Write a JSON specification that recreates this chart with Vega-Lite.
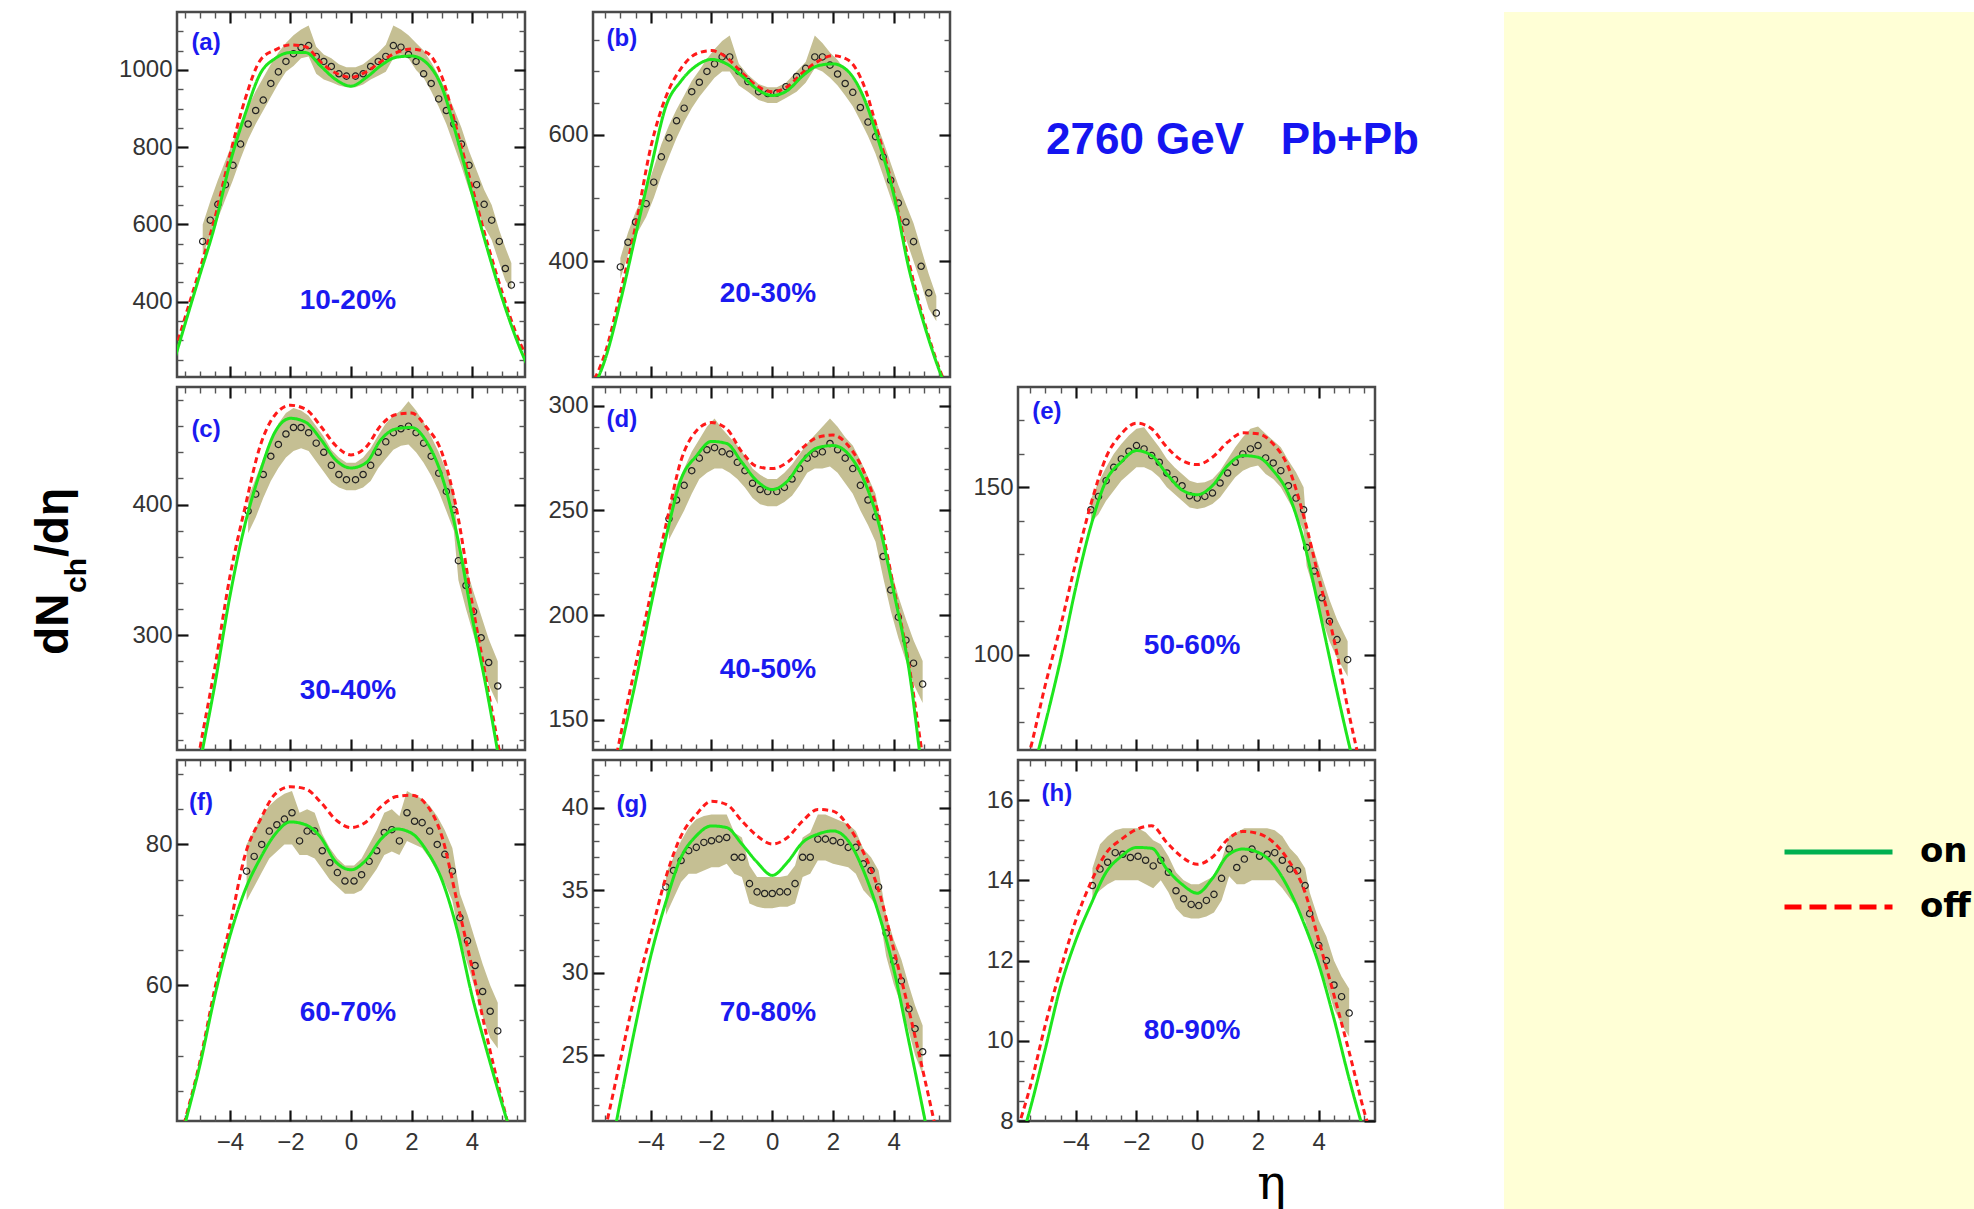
{
"$schema": "https://vega.github.io/schema/vega-lite/v6.json",
"background": "#ffffff",
"padding": {"left": 29, "top": 9, "right": 0, "bottom": 0},
"config": {
  "view": {"stroke": "#4a4a4a", "strokeWidth": 2.5},
  "axis": {"domain": false, "grid": false, "labelFont": "Liberation Sans", "labelFontSize": 24, "labelColor": "#333333", "labelOverlap": false, "labelFlush": false, "labelBound": false}
},
"resolve": {"scale": {"strokeDash": "independent", "color": "independent"}},
"datasets": {
"curves": [
{"p":"a","x":-6,"on":205,"off":225},{"p":"a","x":-5.5,"on":338,"off":355},{"p":"a","x":-5,"on":468,"off":483},{"p":"a","x":-4.5,"on":597,"off":616},{"p":"a","x":-4,"on":758,"off":780},{"p":"a","x":-3.5,"on":885,"off":924},{"p":"a","x":-3,"on":990,"off":1025},{"p":"a","x":-2.5,"on":1030,"off":1052},{"p":"a","x":-2,"on":1045,"off":1065},{"p":"a","x":-1.5,"on":1045,"off":1060},{"p":"a","x":-1,"on":1010,"off":1020},{"p":"a","x":-0.5,"on":975,"off":992},{"p":"a","x":0,"on":958,"off":981},{"p":"a","x":0.5,"on":980,"off":995},{"p":"a","x":1,"on":1012,"off":1022},{"p":"a","x":1.5,"on":1033,"off":1045},{"p":"a","x":2,"on":1036,"off":1054},{"p":"a","x":2.5,"on":1018,"off":1045},{"p":"a","x":3,"on":956,"off":983},{"p":"a","x":3.5,"on":826,"off":844},{"p":"a","x":4,"on":679,"off":697},{"p":"a","x":4.5,"on":538,"off":553},{"p":"a","x":5,"on":408,"off":423},{"p":"a","x":5.5,"on":296,"off":309},{"p":"a","x":6,"on":205,"off":230},
{"p":"b","x":-6,"on":190,"off":200},{"p":"b","x":-5.5,"on":245,"off":255},{"p":"b","x":-5,"on":336,"off":350},{"p":"b","x":-4.5,"on":441,"off":455},{"p":"b","x":-4,"on":546,"off":580},{"p":"b","x":-3.5,"on":645,"off":660},{"p":"b","x":-3,"on":685,"off":705},{"p":"b","x":-2.5,"on":709,"off":728},{"p":"b","x":-2,"on":719,"off":733},{"p":"b","x":-1.5,"on":712,"off":722},{"p":"b","x":-1,"on":693,"off":698},{"p":"b","x":-0.5,"on":672,"off":677},{"p":"b","x":0,"on":662,"off":668},{"p":"b","x":0.5,"on":670,"off":676},{"p":"b","x":1,"on":693,"off":698},{"p":"b","x":1.5,"on":709,"off":716},{"p":"b","x":2,"on":712,"off":725},{"p":"b","x":2.5,"on":700,"off":718},{"p":"b","x":3,"on":660,"off":680},{"p":"b","x":3.5,"on":590,"off":600},{"p":"b","x":4,"on":505,"off":510},{"p":"b","x":4.5,"on":388,"off":398},{"p":"b","x":5,"on":300,"off":305},{"p":"b","x":5.5,"on":227,"off":230},{"p":"b","x":6,"on":170,"off":175},
{"p":"c","x":-6,"on":60,"off":70},{"p":"c","x":-5.5,"on":130,"off":140},{"p":"c","x":-5,"on":200,"off":212},{"p":"c","x":-4.5,"on":262,"off":275},{"p":"c","x":-4,"on":330,"off":345},{"p":"c","x":-3.5,"on":385,"off":398},{"p":"c","x":-3,"on":425,"off":445},{"p":"c","x":-2.5,"on":456,"off":469},{"p":"c","x":-2,"on":466,"off":476},{"p":"c","x":-1.5,"on":463,"off":473},{"p":"c","x":-1,"on":450,"off":460},{"p":"c","x":-0.5,"on":434,"off":445},{"p":"c","x":0,"on":428,"off":438},{"p":"c","x":0.5,"on":432,"off":444},{"p":"c","x":1,"on":450,"off":461},{"p":"c","x":1.5,"on":458,"off":469},{"p":"c","x":2,"on":459,"off":470},{"p":"c","x":2.5,"on":448,"off":459},{"p":"c","x":3,"on":422,"off":440},{"p":"c","x":3.5,"on":377,"off":395},{"p":"c","x":4,"on":314,"off":325},{"p":"c","x":4.5,"on":256,"off":262},{"p":"c","x":5,"on":190,"off":198},{"p":"c","x":5.5,"on":120,"off":128},{"p":"c","x":6,"on":50,"off":60},
{"p":"d","x":-6,"on":60,"off":68},{"p":"d","x":-5.5,"on":100,"off":105},{"p":"d","x":-5,"on":135,"off":142},{"p":"d","x":-4.5,"on":168,"off":176},{"p":"d","x":-4,"on":204,"off":210},{"p":"d","x":-3.5,"on":237,"off":243},{"p":"d","x":-3,"on":265,"off":274},{"p":"d","x":-2.5,"on":276,"off":288},{"p":"d","x":-2,"on":283,"off":292},{"p":"d","x":-1.5,"on":282,"off":289},{"p":"d","x":-1,"on":273,"off":278},{"p":"d","x":-0.5,"on":264,"off":271},{"p":"d","x":0,"on":260,"off":270},{"p":"d","x":0.5,"on":264,"off":273},{"p":"d","x":1,"on":274,"off":280},{"p":"d","x":1.5,"on":280,"off":285},{"p":"d","x":2,"on":281,"off":286},{"p":"d","x":2.5,"on":277,"off":281},{"p":"d","x":3,"on":265,"off":269},{"p":"d","x":3.5,"on":244,"off":248},{"p":"d","x":4,"on":211,"off":213},{"p":"d","x":4.5,"on":174,"off":176},{"p":"d","x":5,"on":118,"off":128},{"p":"d","x":5.5,"on":75,"off":90},{"p":"d","x":6,"on":40,"off":55},
{"p":"e","x":-6,"on":45,"off":55},{"p":"e","x":-5.5,"on":62,"off":71.5},{"p":"e","x":-5,"on":79.5,"off":91},{"p":"e","x":-4.5,"on":98.5,"off":108.5},{"p":"e","x":-4,"on":120,"off":127.5},{"p":"e","x":-3.5,"on":138.5,"off":145},{"p":"e","x":-3,"on":152,"off":159},{"p":"e","x":-2.5,"on":157.6,"off":166},{"p":"e","x":-2,"on":161,"off":169.2},{"p":"e","x":-1.5,"on":159.5,"off":167.5},{"p":"e","x":-1,"on":154,"off":162},{"p":"e","x":-0.5,"on":149.2,"off":158},{"p":"e","x":0,"on":147.8,"off":156.8},{"p":"e","x":0.5,"on":150.5,"off":159},{"p":"e","x":1,"on":156.5,"off":163.5},{"p":"e","x":1.5,"on":159.5,"off":166.3},{"p":"e","x":2,"on":159,"off":166},{"p":"e","x":2.5,"on":155,"off":163},{"p":"e","x":3,"on":148,"off":156},{"p":"e","x":3.5,"on":134,"off":141.5},{"p":"e","x":4,"on":114,"off":123},{"p":"e","x":4.5,"on":93,"off":104.5},{"p":"e","x":5,"on":73,"off":82},{"p":"e","x":5.5,"on":55,"off":62},{"p":"e","x":6,"on":40,"off":45},
{"p":"f","x":-6,"on":31,"off":32},{"p":"f","x":-5.5,"on":40,"off":40.5},{"p":"f","x":-5,"on":48.5,"off":49},{"p":"f","x":-4.5,"on":58.5,"off":59.5},{"p":"f","x":-4,"on":67,"off":68.5},{"p":"f","x":-3.5,"on":73.5,"off":78.5},{"p":"f","x":-3,"on":78,"off":83.5},{"p":"f","x":-2.5,"on":81.5,"off":87.2},{"p":"f","x":-2,"on":83.2,"off":88.2},{"p":"f","x":-1.5,"on":82.8,"off":87.9},{"p":"f","x":-1,"on":81,"off":86},{"p":"f","x":-0.5,"on":77.5,"off":83.5},{"p":"f","x":0,"on":76.4,"off":82.4},{"p":"f","x":0.5,"on":77.8,"off":83.2},{"p":"f","x":1,"on":80.8,"off":85.4},{"p":"f","x":1.5,"on":82.2,"off":86.8},{"p":"f","x":2,"on":81.6,"off":87},{"p":"f","x":2.5,"on":79.1,"off":85.6},{"p":"f","x":3,"on":75,"off":81.2},{"p":"f","x":3.5,"on":68,"off":72},{"p":"f","x":4,"on":58.5,"off":62.5},{"p":"f","x":4.5,"on":50.5,"off":52.5},{"p":"f","x":5,"on":43,"off":43.5},{"p":"f","x":5.5,"on":36,"off":35},{"p":"f","x":6,"on":29,"off":27},
{"p":"g","x":-6,"on":14,"off":17},{"p":"g","x":-5.5,"on":17.5,"off":20.5},{"p":"g","x":-5,"on":22.2,"off":24.7},{"p":"g","x":-4.5,"on":26.8,"off":28.8},{"p":"g","x":-4,"on":31,"off":32.3},{"p":"g","x":-3.5,"on":34.3,"off":35.8},{"p":"g","x":-3,"on":37,"off":38.3},{"p":"g","x":-2.5,"on":38.3,"off":39.6},{"p":"g","x":-2,"on":38.9,"off":40.4},{"p":"g","x":-1.5,"on":38.8,"off":40.2},{"p":"g","x":-1,"on":37.8,"off":39.2},{"p":"g","x":-0.5,"on":36.7,"off":38.3},{"p":"g","x":0,"on":35.9,"off":37.8},{"p":"g","x":0.5,"on":36.7,"off":38.2},{"p":"g","x":1,"on":37.9,"off":39.2},{"p":"g","x":1.5,"on":38.4,"off":39.9},{"p":"g","x":2,"on":38.6,"off":39.8},{"p":"g","x":2.5,"on":38,"off":38.9},{"p":"g","x":3,"on":36.2,"off":37.3},{"p":"g","x":3.5,"on":33.6,"off":35},{"p":"g","x":4,"on":30.2,"off":31.4},{"p":"g","x":4.5,"on":25.8,"off":27.7},{"p":"g","x":5,"on":21.3,"off":23.7},{"p":"g","x":5.5,"on":16.5,"off":19.5},{"p":"g","x":6,"on":12,"off":15},
{"p":"h","x":-6,"on":7,"off":7.6},{"p":"h","x":-5.5,"on":8.3,"off":8.85},{"p":"h","x":-5,"on":9.8,"off":10.4},{"p":"h","x":-4.5,"on":11.35,"off":11.78},{"p":"h","x":-4,"on":12.5,"off":13},{"p":"h","x":-3.5,"on":13.4,"off":13.95},{"p":"h","x":-3,"on":14.2,"off":14.68},{"p":"h","x":-2.5,"on":14.6,"off":15.02},{"p":"h","x":-2,"on":14.82,"off":15.27},{"p":"h","x":-1.5,"on":14.8,"off":15.36},{"p":"h","x":-1,"on":14.28,"off":14.94},{"p":"h","x":-0.5,"on":13.9,"off":14.58},{"p":"h","x":0,"on":13.68,"off":14.4},{"p":"h","x":0.5,"on":14.05,"off":14.58},{"p":"h","x":1,"on":14.62,"off":15.02},{"p":"h","x":1.5,"on":14.78,"off":15.22},{"p":"h","x":2,"on":14.7,"off":15.17},{"p":"h","x":2.5,"on":14.4,"off":14.95},{"p":"h","x":3,"on":13.8,"off":14.5},{"p":"h","x":3.5,"on":12.95,"off":13.8},{"p":"h","x":4,"on":11.9,"off":12.5},{"p":"h","x":4.5,"on":10.55,"off":11.14},{"p":"h","x":5,"on":9.05,"off":9.72},{"p":"h","x":5.5,"on":7.7,"off":8.22},{"p":"h","x":6,"on":6.5,"off":7}
],
"meas": [
{"p":"a","x":-4.9,"y":556,"lo":520,"hi":600},{"p":"a","x":-4.65,"y":611,"lo":572,"hi":660},{"p":"a","x":-4.4,"y":652,"lo":615,"hi":715},{"p":"a","x":-4.15,"y":703,"lo":665,"hi":765},{"p":"a","x":-3.9,"y":753,"lo":715,"hi":815},{"p":"a","x":-3.65,"y":808,"lo":770,"hi":865},{"p":"a","x":-3.4,"y":860,"lo":820,"hi":905},{"p":"a","x":-3.15,"y":895,"lo":860,"hi":945},{"p":"a","x":-2.9,"y":922,"lo":895,"hi":980},{"p":"a","x":-2.65,"y":965,"lo":930,"hi":1015},{"p":"a","x":-2.4,"y":995,"lo":965,"hi":1045},{"p":"a","x":-2.15,"y":1022,"lo":995,"hi":1070},{"p":"a","x":-1.9,"y":1042,"lo":1010,"hi":1090},{"p":"a","x":-1.65,"y":1058,"lo":1030,"hi":1105},{"p":"a","x":-1.4,"y":1063,"lo":1035,"hi":1115},{"p":"a","x":-1.15,"y":1035,"lo":990,"hi":1060},{"p":"a","x":-0.9,"y":1022,"lo":975,"hi":1040},{"p":"a","x":-0.65,"y":1009,"lo":968,"hi":1030},{"p":"a","x":-0.4,"y":990,"lo":960,"hi":1015},{"p":"a","x":-0.15,"y":984,"lo":955,"hi":1007},{"p":"a","x":0.15,"y":984,"lo":955,"hi":1007},{"p":"a","x":0.4,"y":990,"lo":962,"hi":1015},{"p":"a","x":0.65,"y":1009,"lo":975,"hi":1030},{"p":"a","x":0.9,"y":1022,"lo":985,"hi":1045},{"p":"a","x":1.15,"y":1035,"lo":995,"hi":1065},{"p":"a","x":1.4,"y":1063,"lo":1030,"hi":1115},{"p":"a","x":1.65,"y":1059,"lo":1040,"hi":1105},{"p":"a","x":1.9,"y":1040,"lo":1030,"hi":1090},{"p":"a","x":2.15,"y":1022,"lo":1000,"hi":1070},{"p":"a","x":2.4,"y":990,"lo":980,"hi":1050},{"p":"a","x":2.65,"y":965,"lo":945,"hi":1020},{"p":"a","x":2.9,"y":925,"lo":905,"hi":985},{"p":"a","x":3.15,"y":895,"lo":860,"hi":945},{"p":"a","x":3.4,"y":860,"lo":805,"hi":900},{"p":"a","x":3.65,"y":808,"lo":750,"hi":850},{"p":"a","x":3.9,"y":753,"lo":690,"hi":790},{"p":"a","x":4.15,"y":703,"lo":640,"hi":740},{"p":"a","x":4.4,"y":652,"lo":595,"hi":690},{"p":"a","x":4.65,"y":611,"lo":560,"hi":650},{"p":"a","x":4.9,"y":556,"lo":500,"hi":585},{"p":"a","x":5.1,"y":486,"lo":455,"hi":540},{"p":"a","x":5.3,"y":443,"lo":430,"hi":500},
{"p":"b","x":-5,"y":391,"lo":372,"hi":405},{"p":"b","x":-4.75,"y":430,"lo":410,"hi":445},{"p":"b","x":-4.5,"y":462,"lo":440,"hi":478},{"p":"b","x":-4.15,"y":491,"lo":470,"hi":512},{"p":"b","x":-3.9,"y":525,"lo":500,"hi":548},{"p":"b","x":-3.65,"y":565,"lo":535,"hi":585},{"p":"b","x":-3.4,"y":595,"lo":565,"hi":615},{"p":"b","x":-3.15,"y":622,"lo":595,"hi":640},{"p":"b","x":-2.9,"y":642,"lo":620,"hi":662},{"p":"b","x":-2.65,"y":668,"lo":642,"hi":685},{"p":"b","x":-2.4,"y":683,"lo":660,"hi":702},{"p":"b","x":-2.15,"y":700,"lo":675,"hi":720},{"p":"b","x":-1.9,"y":712,"lo":690,"hi":735},{"p":"b","x":-1.65,"y":723,"lo":700,"hi":748},{"p":"b","x":-1.4,"y":723,"lo":700,"hi":757},{"p":"b","x":-1.1,"y":700,"lo":678,"hi":712},{"p":"b","x":-0.8,"y":684,"lo":668,"hi":695},{"p":"b","x":-0.45,"y":668,"lo":655,"hi":680},{"p":"b","x":-0.15,"y":665,"lo":650,"hi":675},{"p":"b","x":0.15,"y":666,"lo":650,"hi":675},{"p":"b","x":0.45,"y":676,"lo":658,"hi":682},{"p":"b","x":0.8,"y":692,"lo":668,"hi":700},{"p":"b","x":1.1,"y":705,"lo":682,"hi":715},{"p":"b","x":1.4,"y":723,"lo":705,"hi":757},{"p":"b","x":1.65,"y":723,"lo":700,"hi":745},{"p":"b","x":1.9,"y":710,"lo":690,"hi":730},{"p":"b","x":2.15,"y":696,"lo":678,"hi":718},{"p":"b","x":2.4,"y":681,"lo":662,"hi":702},{"p":"b","x":2.65,"y":667,"lo":645,"hi":688},{"p":"b","x":2.9,"y":643,"lo":622,"hi":668},{"p":"b","x":3.15,"y":620,"lo":598,"hi":648},{"p":"b","x":3.4,"y":597,"lo":570,"hi":622},{"p":"b","x":3.65,"y":565,"lo":535,"hi":590},{"p":"b","x":3.9,"y":528,"lo":500,"hi":555},{"p":"b","x":4.15,"y":492,"lo":465,"hi":520},{"p":"b","x":4.4,"y":462,"lo":435,"hi":490},{"p":"b","x":4.65,"y":431,"lo":400,"hi":460},{"p":"b","x":4.9,"y":392,"lo":365,"hi":420},{"p":"b","x":5.15,"y":350,"lo":325,"hi":380},{"p":"b","x":5.4,"y":318,"lo":305,"hi":345},
{"p":"c","x":-3.4,"y":395,"lo":378,"hi":405},{"p":"c","x":-3.15,"y":408,"lo":390,"hi":420},{"p":"c","x":-2.9,"y":423,"lo":405,"hi":435},{"p":"c","x":-2.65,"y":437,"lo":418,"hi":450},{"p":"c","x":-2.4,"y":446,"lo":428,"hi":462},{"p":"c","x":-2.15,"y":454,"lo":436,"hi":470},{"p":"c","x":-1.9,"y":459,"lo":441,"hi":474},{"p":"c","x":-1.65,"y":459,"lo":443,"hi":472},{"p":"c","x":-1.4,"y":455,"lo":441,"hi":468},{"p":"c","x":-1.15,"y":447,"lo":433,"hi":460},{"p":"c","x":-0.9,"y":440,"lo":425,"hi":452},{"p":"c","x":-0.65,"y":430,"lo":417,"hi":442},{"p":"c","x":-0.4,"y":423,"lo":413,"hi":436},{"p":"c","x":-0.15,"y":419,"lo":411,"hi":432},{"p":"c","x":0.15,"y":419,"lo":411,"hi":432},{"p":"c","x":0.4,"y":423,"lo":413,"hi":436},{"p":"c","x":0.65,"y":430,"lo":418,"hi":443},{"p":"c","x":0.9,"y":440,"lo":428,"hi":453},{"p":"c","x":1.15,"y":448,"lo":435,"hi":462},{"p":"c","x":1.4,"y":455,"lo":442,"hi":468},{"p":"c","x":1.65,"y":458,"lo":445,"hi":472},{"p":"c","x":1.9,"y":460,"lo":446,"hi":479},{"p":"c","x":2.15,"y":455,"lo":440,"hi":472},{"p":"c","x":2.4,"y":447,"lo":432,"hi":463},{"p":"c","x":2.65,"y":437,"lo":422,"hi":452},{"p":"c","x":2.9,"y":424,"lo":410,"hi":440},{"p":"c","x":3.15,"y":410,"lo":395,"hi":426},{"p":"c","x":3.4,"y":396,"lo":380,"hi":410},{"p":"c","x":3.55,"y":357,"lo":342,"hi":370},{"p":"c","x":3.8,"y":338,"lo":320,"hi":352},{"p":"c","x":4.05,"y":318,"lo":300,"hi":333},{"p":"c","x":4.3,"y":298,"lo":280,"hi":315},{"p":"c","x":4.55,"y":279,"lo":262,"hi":297},{"p":"c","x":4.85,"y":261,"lo":247,"hi":280},
{"p":"d","x":-3.4,"y":246,"lo":236,"hi":252},{"p":"d","x":-3.15,"y":255,"lo":243,"hi":262},{"p":"d","x":-2.9,"y":262,"lo":250,"hi":270},{"p":"d","x":-2.65,"y":269,"lo":258,"hi":278},{"p":"d","x":-2.4,"y":275,"lo":265,"hi":284},{"p":"d","x":-2.15,"y":279,"lo":268,"hi":290},{"p":"d","x":-1.9,"y":280,"lo":270,"hi":294},{"p":"d","x":-1.65,"y":278,"lo":270,"hi":289},{"p":"d","x":-1.4,"y":277,"lo":268,"hi":285},{"p":"d","x":-1.15,"y":273,"lo":265,"hi":281},{"p":"d","x":-0.9,"y":269,"lo":261,"hi":276},{"p":"d","x":-0.65,"y":263,"lo":256,"hi":270},{"p":"d","x":-0.4,"y":260,"lo":253,"hi":267},{"p":"d","x":-0.15,"y":259,"lo":252,"hi":265},{"p":"d","x":0.15,"y":259,"lo":252,"hi":265},{"p":"d","x":0.4,"y":261,"lo":254,"hi":268},{"p":"d","x":0.65,"y":265,"lo":257,"hi":272},{"p":"d","x":0.9,"y":270,"lo":262,"hi":277},{"p":"d","x":1.15,"y":275,"lo":268,"hi":282},{"p":"d","x":1.4,"y":277,"lo":270,"hi":286},{"p":"d","x":1.65,"y":278,"lo":270,"hi":290},{"p":"d","x":1.9,"y":282,"lo":271,"hi":294},{"p":"d","x":2.15,"y":279,"lo":268,"hi":290},{"p":"d","x":2.4,"y":275,"lo":263,"hi":285},{"p":"d","x":2.65,"y":270,"lo":258,"hi":281},{"p":"d","x":2.9,"y":262,"lo":250,"hi":274},{"p":"d","x":3.15,"y":255,"lo":243,"hi":266},{"p":"d","x":3.4,"y":247,"lo":235,"hi":258},{"p":"d","x":3.65,"y":228,"lo":218,"hi":238},{"p":"d","x":3.9,"y":212,"lo":202,"hi":222},{"p":"d","x":4.15,"y":199,"lo":189,"hi":209},{"p":"d","x":4.4,"y":188,"lo":178,"hi":198},{"p":"d","x":4.65,"y":177,"lo":167,"hi":188},{"p":"d","x":4.95,"y":167,"lo":158,"hi":178},
{"p":"e","x":-3.5,"y":143.3,"lo":139.5,"hi":146.5},{"p":"e","x":-3.25,"y":147.3,"lo":142,"hi":151.5},{"p":"e","x":-3,"y":152,"lo":146,"hi":156},{"p":"e","x":-2.75,"y":156,"lo":149,"hi":160},{"p":"e","x":-2.5,"y":158.5,"lo":152,"hi":163},{"p":"e","x":-2.25,"y":160.8,"lo":154,"hi":165.5},{"p":"e","x":-2,"y":162.5,"lo":156,"hi":167.5},{"p":"e","x":-1.75,"y":161.5,"lo":156,"hi":168},{"p":"e","x":-1.5,"y":159.5,"lo":155,"hi":165},{"p":"e","x":-1.25,"y":157.5,"lo":153,"hi":162},{"p":"e","x":-1,"y":154.3,"lo":150,"hi":158.5},{"p":"e","x":-0.75,"y":152.3,"lo":148,"hi":156},{"p":"e","x":-0.5,"y":150.5,"lo":146,"hi":154},{"p":"e","x":-0.25,"y":147.5,"lo":144,"hi":152},{"p":"e","x":0,"y":146.8,"lo":143.5,"hi":151.3},{"p":"e","x":0.25,"y":147.3,"lo":144,"hi":151.5},{"p":"e","x":0.5,"y":148.3,"lo":145,"hi":152.5},{"p":"e","x":0.75,"y":151.3,"lo":147,"hi":155},{"p":"e","x":1,"y":154.3,"lo":150,"hi":158.5},{"p":"e","x":1.25,"y":157.5,"lo":153,"hi":162},{"p":"e","x":1.5,"y":160,"lo":155,"hi":165},{"p":"e","x":1.75,"y":161.5,"lo":156,"hi":167.5},{"p":"e","x":2,"y":162.5,"lo":156.5,"hi":168.2},{"p":"e","x":2.25,"y":158.8,"lo":154,"hi":166},{"p":"e","x":2.5,"y":157.3,"lo":152.5,"hi":164},{"p":"e","x":2.75,"y":155,"lo":150,"hi":162},{"p":"e","x":3,"y":150.5,"lo":146,"hi":158},{"p":"e","x":3.25,"y":146.8,"lo":142,"hi":154.5},{"p":"e","x":3.5,"y":143.3,"lo":137,"hi":150},{"p":"e","x":3.6,"y":132,"lo":126.5,"hi":138},{"p":"e","x":3.85,"y":125,"lo":119,"hi":131},{"p":"e","x":4.1,"y":117,"lo":111,"hi":123.5},{"p":"e","x":4.35,"y":110,"lo":104,"hi":116.5},{"p":"e","x":4.6,"y":104.5,"lo":99,"hi":110.5},{"p":"e","x":4.95,"y":98.5,"lo":93.5,"hi":104},
{"p":"f","x":-3.45,"y":76.2,"lo":72,"hi":80},{"p":"f","x":-3.2,"y":78.3,"lo":74,"hi":82},{"p":"f","x":-2.95,"y":80,"lo":76,"hi":84},{"p":"f","x":-2.7,"y":81.9,"lo":78,"hi":85.5},{"p":"f","x":-2.45,"y":82.8,"lo":79,"hi":86.5},{"p":"f","x":-2.2,"y":83.6,"lo":80,"hi":87.2},{"p":"f","x":-1.95,"y":84.5,"lo":80,"hi":87.6},{"p":"f","x":-1.7,"y":80.5,"lo":78.5,"hi":84.5},{"p":"f","x":-1.45,"y":81.9,"lo":78.5,"hi":85},{"p":"f","x":-1.2,"y":81.9,"lo":78,"hi":84.5},{"p":"f","x":-0.95,"y":79.1,"lo":76.5,"hi":81.5},{"p":"f","x":-0.7,"y":77.4,"lo":75,"hi":79.5},{"p":"f","x":-0.45,"y":76,"lo":74,"hi":78},{"p":"f","x":-0.2,"y":74.8,"lo":73,"hi":77},{"p":"f","x":0.1,"y":74.8,"lo":73,"hi":77},{"p":"f","x":0.35,"y":75.7,"lo":73.5,"hi":78},{"p":"f","x":0.6,"y":77.6,"lo":75,"hi":80},{"p":"f","x":0.85,"y":79.1,"lo":76.5,"hi":82},{"p":"f","x":1.1,"y":81.7,"lo":78.5,"hi":84.5},{"p":"f","x":1.35,"y":82.1,"lo":79,"hi":85},{"p":"f","x":1.6,"y":80.5,"lo":78.5,"hi":84},{"p":"f","x":1.85,"y":84.5,"lo":80.5,"hi":87.6},{"p":"f","x":2.1,"y":83.3,"lo":80,"hi":87},{"p":"f","x":2.35,"y":83.1,"lo":79.5,"hi":86.5},{"p":"f","x":2.6,"y":81.9,"lo":78,"hi":85.5},{"p":"f","x":2.85,"y":80,"lo":76,"hi":84},{"p":"f","x":3.1,"y":78.6,"lo":74.5,"hi":82},{"p":"f","x":3.35,"y":76.2,"lo":72,"hi":79.5},{"p":"f","x":3.6,"y":69.6,"lo":66.5,"hi":73},{"p":"f","x":3.85,"y":66.3,"lo":63,"hi":70},{"p":"f","x":4.1,"y":62.8,"lo":59.5,"hi":66.5},{"p":"f","x":4.35,"y":59.1,"lo":55.5,"hi":63},{"p":"f","x":4.6,"y":56.3,"lo":52.5,"hi":60},{"p":"f","x":4.85,"y":53.5,"lo":51,"hi":57.5},
{"p":"g","x":-3.5,"y":35.2,"lo":33.5,"hi":36},{"p":"g","x":-3.25,"y":36.2,"lo":34.5,"hi":37},{"p":"g","x":-3,"y":36.8,"lo":35.5,"hi":38},{"p":"g","x":-2.75,"y":37.4,"lo":36,"hi":38.8},{"p":"g","x":-2.5,"y":37.6,"lo":36,"hi":39.3},{"p":"g","x":-2.25,"y":37.9,"lo":36.2,"hi":39.5},{"p":"g","x":-2,"y":38,"lo":36.4,"hi":39.6},{"p":"g","x":-1.75,"y":38.1,"lo":36.4,"hi":39.6},{"p":"g","x":-1.5,"y":38.2,"lo":36.6,"hi":39.6},{"p":"g","x":-1.25,"y":37,"lo":36,"hi":38.5},{"p":"g","x":-1,"y":37,"lo":35.8,"hi":38.2},{"p":"g","x":-0.75,"y":35.4,"lo":34.2,"hi":36.5},{"p":"g","x":-0.5,"y":34.9,"lo":34,"hi":35.8},{"p":"g","x":-0.25,"y":34.8,"lo":33.9,"hi":35.8},{"p":"g","x":0,"y":34.8,"lo":33.9,"hi":35.8},{"p":"g","x":0.25,"y":34.9,"lo":34,"hi":35.8},{"p":"g","x":0.5,"y":34.9,"lo":34,"hi":35.9},{"p":"g","x":0.75,"y":35.4,"lo":34.2,"hi":36.5},{"p":"g","x":1,"y":37,"lo":35.8,"hi":38.2},{"p":"g","x":1.25,"y":37,"lo":36,"hi":38.5},{"p":"g","x":1.5,"y":38.1,"lo":36.8,"hi":39.6},{"p":"g","x":1.75,"y":38.1,"lo":36.8,"hi":39.6},{"p":"g","x":2,"y":38,"lo":36.6,"hi":39.4},{"p":"g","x":2.25,"y":37.9,"lo":36.5,"hi":39.2},{"p":"g","x":2.5,"y":37.6,"lo":36.4,"hi":39},{"p":"g","x":2.75,"y":37.6,"lo":36,"hi":38.6},{"p":"g","x":3,"y":36.6,"lo":35,"hi":37.5},{"p":"g","x":3.25,"y":36.2,"lo":34.5,"hi":37},{"p":"g","x":3.5,"y":35.2,"lo":33.8,"hi":36.2},{"p":"g","x":3.75,"y":32.4,"lo":31,"hi":33.5},{"p":"g","x":4,"y":30.7,"lo":29.3,"hi":32},{"p":"g","x":4.25,"y":29.5,"lo":28,"hi":30.8},{"p":"g","x":4.5,"y":27.8,"lo":26.4,"hi":29.2},{"p":"g","x":4.7,"y":26.6,"lo":25,"hi":28},{"p":"g","x":4.95,"y":25.2,"lo":23.8,"hi":26.8},
{"p":"h","x":-3.45,"y":13.87,"lo":13.55,"hi":14.3},{"p":"h","x":-3.2,"y":14.28,"lo":13.75,"hi":14.9},{"p":"h","x":-2.95,"y":14.45,"lo":13.9,"hi":15.1},{"p":"h","x":-2.7,"y":14.69,"lo":14,"hi":15.25},{"p":"h","x":-2.45,"y":14.65,"lo":14,"hi":15.3},{"p":"h","x":-2.2,"y":14.57,"lo":14,"hi":15.3},{"p":"h","x":-1.95,"y":14.6,"lo":14,"hi":15.3},{"p":"h","x":-1.7,"y":14.5,"lo":13.9,"hi":15.2},{"p":"h","x":-1.45,"y":14.36,"lo":13.8,"hi":15},{"p":"h","x":-1.2,"y":14.5,"lo":14,"hi":14.9},{"p":"h","x":-0.95,"y":14.2,"lo":13.7,"hi":14.6},{"p":"h","x":-0.7,"y":13.74,"lo":13.3,"hi":14.2},{"p":"h","x":-0.45,"y":13.54,"lo":13.1,"hi":14},{"p":"h","x":-0.2,"y":13.4,"lo":13.05,"hi":13.9},{"p":"h","x":0.05,"y":13.37,"lo":13.05,"hi":13.9},{"p":"h","x":0.3,"y":13.5,"lo":13.1,"hi":14},{"p":"h","x":0.55,"y":13.65,"lo":13.2,"hi":14.1},{"p":"h","x":0.8,"y":14.05,"lo":13.5,"hi":14.5},{"p":"h","x":1.05,"y":14.78,"lo":14.1,"hi":15.1},{"p":"h","x":1.3,"y":14.32,"lo":13.9,"hi":15.2},{"p":"h","x":1.55,"y":14.53,"lo":13.9,"hi":15.3},{"p":"h","x":1.8,"y":14.78,"lo":14,"hi":15.3},{"p":"h","x":2.05,"y":14.6,"lo":14,"hi":15.3},{"p":"h","x":2.3,"y":14.65,"lo":14,"hi":15.3},{"p":"h","x":2.55,"y":14.69,"lo":14,"hi":15.25},{"p":"h","x":2.8,"y":14.5,"lo":13.8,"hi":15.1},{"p":"h","x":3.05,"y":14.28,"lo":13.55,"hi":14.8},{"p":"h","x":3.3,"y":14.24,"lo":13.3,"hi":14.6},{"p":"h","x":3.55,"y":13.87,"lo":13,"hi":14.3},{"p":"h","x":3.7,"y":13.17,"lo":12.6,"hi":13.7},{"p":"h","x":4,"y":12.38,"lo":11.9,"hi":13},{"p":"h","x":4.25,"y":12,"lo":11.4,"hi":12.6},{"p":"h","x":4.5,"y":11.39,"lo":10.8,"hi":12},{"p":"h","x":4.75,"y":11.1,"lo":10.4,"hi":11.6},{"p":"h","x":5,"y":10.69,"lo":10.1,"hi":11.3}
]
},
"hconcat": [
{
"columns": 3, "align": "each", "bounds": "flush", "spacing": {"row": 10, "column": 68},
"concat": [
{
 "width": 348, "height": 365,
 "resolve": {"axis": {"x": "independent", "y": "independent"}},
 "layer": [
  {"data": {"name": "meas"}, "transform": [{"filter": "datum.p === 'a'"}],
   "mark": {"type": "area", "color": "#c5bf93"},
   "encoding": {
    "x": {"field": "x", "type": "quantitative", "scale": {"domain": [-5.75, 5.75], "nice": false}, "axis": {"orient": "bottom", "title": null, "labels": false, "values": [-5.5,-5,-4.5,-4,-3.5,-3,-2.5,-2,-1.5,-1,-0.5,0,0.5,1,1.5,2,2.5,3,3.5,4,4.5,5,5.5], "tickSize": {"condition": {"test": "datum.value % 2 === 0", "value": -11}, "value": -6}, "tickWidth": {"condition": {"test": "datum.value % 2 === 0", "value": 2.2}, "value": 1.4}, "tickColor": {"condition": {"test": "datum.value % 2 === 0", "value": "#111111"}, "value": "#555555"}}},
    "y": {"field": "lo", "type": "quantitative", "scale": {"domain": [205, 1150], "nice": false, "zero": false}, "axis": {"orient": "left", "title": null, "values": [250,300,350,400,450,500,550,600,650,700,750,800,850,900,950,1000,1050,1100], "labelExpr": "datum.value % 200 === 0 ? format(datum.value, 'd') : ''", "labelPadding": 16, "tickSize": {"condition": {"test": "datum.value % 200 === 0", "value": -11}, "value": -6}, "tickWidth": {"condition": {"test": "datum.value % 200 === 0", "value": 2.2}, "value": 1.4}, "tickColor": {"condition": {"test": "datum.value % 200 === 0", "value": "#111111"}, "value": "#555555"}}},
    "y2": {"field": "hi"}
   }},
  {"data": {"name": "meas"}, "transform": [{"filter": "datum.p === 'a'"}],
   "mark": {"type": "point", "shape": "circle", "filled": false, "stroke": "#222222", "strokeWidth": 1.2, "size": 40, "opacity": 1},
   "encoding": {
    "x": {"field": "x", "type": "quantitative", "axis": {"orient": "top", "title": null, "labels": false, "values": [-5.5,-5,-4.5,-4,-3.5,-3,-2.5,-2,-1.5,-1,-0.5,0,0.5,1,1.5,2,2.5,3,3.5,4,4.5,5,5.5], "tickSize": {"condition": {"test": "datum.value % 2 === 0", "value": -11}, "value": -6}, "tickWidth": {"condition": {"test": "datum.value % 2 === 0", "value": 2.2}, "value": 1.4}, "tickColor": {"condition": {"test": "datum.value % 2 === 0", "value": "#111111"}, "value": "#555555"}}},
    "y": {"field": "y", "type": "quantitative", "axis": {"orient": "right", "title": null, "labels": false, "values": [250,300,350,400,450,500,550,600,650,700,750,800,850,900,950,1000,1050,1100], "tickSize": {"condition": {"test": "datum.value % 200 === 0", "value": -11}, "value": -6}, "tickWidth": {"condition": {"test": "datum.value % 200 === 0", "value": 2.2}, "value": 1.4}, "tickColor": {"condition": {"test": "datum.value % 200 === 0", "value": "#111111"}, "value": "#555555"}}}
   }},
  {"data": {"name": "curves"}, "transform": [{"filter": "datum.p === 'a'"}, {"fold": ["off", "on"], "as": ["s", "v"]}],
   "mark": {"type": "line", "clip": true, "interpolate": "monotone", "strokeWidth": 3},
   "encoding": {
    "x": {"field": "x", "type": "quantitative", "axis": null},
    "y": {"field": "v", "type": "quantitative", "axis": null},
    "color": {"field": "s", "type": "nominal", "scale": {"domain": ["on", "off"], "range": ["#1ee61e", "#ff1a1a"]}, "legend": null},
    "strokeDash": {"field": "s", "type": "nominal", "scale": {"domain": ["on", "off"], "range": [[1, 0], [6, 4]]}, "legend": null}
   }},
  {"data": {"values": [{}]}, "mark": {"type": "text", "text": "(a)", "font": "Liberation Sans", "fontSize": 24, "fontWeight": "bold", "color": "#1a1af0", "align": "center", "baseline": "middle"},
   "encoding": {"x": {"datum": -4.79, "type": "quantitative", "axis": null}, "y": {"datum": 1070, "type": "quantitative", "axis": null}}},
  {"data": {"values": [{}]}, "mark": {"type": "text", "text": "10-20%", "font": "Liberation Sans", "fontSize": 28, "fontWeight": "bold", "color": "#1a1af0", "align": "center", "baseline": "middle"},
   "encoding": {"x": {"datum": -0.1, "type": "quantitative", "axis": null}, "y": {"datum": 402, "type": "quantitative", "axis": null}}}
 ]
},
{
 "width": 357, "height": 365,
 "resolve": {"axis": {"x": "independent", "y": "independent"}},
 "layer": [
  {"data": {"name": "meas"}, "transform": [{"filter": "datum.p === 'b'"}],
   "mark": {"type": "area", "color": "#c5bf93"},
   "encoding": {
    "x": {"field": "x", "type": "quantitative", "scale": {"domain": [-5.9, 5.85], "nice": false}, "axis": {"orient": "bottom", "title": null, "labels": false, "values": [-5.5,-5,-4.5,-4,-3.5,-3,-2.5,-2,-1.5,-1,-0.5,0,0.5,1,1.5,2,2.5,3,3.5,4,4.5,5,5.5], "tickSize": {"condition": {"test": "datum.value % 2 === 0", "value": -11}, "value": -6}, "tickWidth": {"condition": {"test": "datum.value % 2 === 0", "value": 2.2}, "value": 1.4}, "tickColor": {"condition": {"test": "datum.value % 2 === 0", "value": "#111111"}, "value": "#555555"}}},
    "y": {"field": "lo", "type": "quantitative", "scale": {"domain": [217, 794], "nice": false, "zero": false}, "axis": {"orient": "left", "title": null, "values": [250,300,350,400,450,500,550,600,650,700,750], "labelExpr": "datum.value % 200 === 0 ? format(datum.value, 'd') : ''", "labelPadding": 16, "tickSize": {"condition": {"test": "datum.value % 200 === 0", "value": -11}, "value": -6}, "tickWidth": {"condition": {"test": "datum.value % 200 === 0", "value": 2.2}, "value": 1.4}, "tickColor": {"condition": {"test": "datum.value % 200 === 0", "value": "#111111"}, "value": "#555555"}}},
    "y2": {"field": "hi"}
   }},
  {"data": {"name": "meas"}, "transform": [{"filter": "datum.p === 'b'"}],
   "mark": {"type": "point", "shape": "circle", "filled": false, "stroke": "#222222", "strokeWidth": 1.2, "size": 40, "opacity": 1},
   "encoding": {
    "x": {"field": "x", "type": "quantitative", "axis": {"orient": "top", "title": null, "labels": false, "values": [-5.5,-5,-4.5,-4,-3.5,-3,-2.5,-2,-1.5,-1,-0.5,0,0.5,1,1.5,2,2.5,3,3.5,4,4.5,5,5.5], "tickSize": {"condition": {"test": "datum.value % 2 === 0", "value": -11}, "value": -6}, "tickWidth": {"condition": {"test": "datum.value % 2 === 0", "value": 2.2}, "value": 1.4}, "tickColor": {"condition": {"test": "datum.value % 2 === 0", "value": "#111111"}, "value": "#555555"}}},
    "y": {"field": "y", "type": "quantitative", "axis": {"orient": "right", "title": null, "labels": false, "values": [250,300,350,400,450,500,550,600,650,700,750], "tickSize": {"condition": {"test": "datum.value % 200 === 0", "value": -11}, "value": -6}, "tickWidth": {"condition": {"test": "datum.value % 200 === 0", "value": 2.2}, "value": 1.4}, "tickColor": {"condition": {"test": "datum.value % 200 === 0", "value": "#111111"}, "value": "#555555"}}}
   }},
  {"data": {"name": "curves"}, "transform": [{"filter": "datum.p === 'b'"}, {"fold": ["off", "on"], "as": ["s", "v"]}],
   "mark": {"type": "line", "clip": true, "interpolate": "monotone", "strokeWidth": 3},
   "encoding": {
    "x": {"field": "x", "type": "quantitative", "axis": null},
    "y": {"field": "v", "type": "quantitative", "axis": null},
    "color": {"field": "s", "type": "nominal", "scale": {"domain": ["on", "off"], "range": ["#1ee61e", "#ff1a1a"]}, "legend": null},
    "strokeDash": {"field": "s", "type": "nominal", "scale": {"domain": ["on", "off"], "range": [[1, 0], [6, 4]]}, "legend": null}
   }},
  {"data": {"values": [{}]}, "mark": {"type": "text", "text": "(b)", "font": "Liberation Sans", "fontSize": 24, "fontWeight": "bold", "color": "#1a1af0", "align": "center", "baseline": "middle"},
   "encoding": {"x": {"datum": -4.95, "type": "quantitative", "axis": null}, "y": {"datum": 751, "type": "quantitative", "axis": null}}},
  {"data": {"values": [{}]}, "mark": {"type": "text", "text": "20-30%", "font": "Liberation Sans", "fontSize": 28, "fontWeight": "bold", "color": "#1a1af0", "align": "center", "baseline": "middle"},
   "encoding": {"x": {"datum": -0.14, "type": "quantitative", "axis": null}, "y": {"datum": 348, "type": "quantitative", "axis": null}}}
 ]
},
{
 "width": 357, "height": 365,
 "view": {"stroke": null},
 "data": {"values": [{}]},
 "mark": {"type": "text", "text": "2760 GeV\u00a0\u00a0\u00a0Pb+Pb", "font": "Liberation Sans", "fontSize": 44, "fontWeight": "bold", "color": "#1515f0", "align": "center", "baseline": "middle", "dx": 36, "dy": -54}
},
{
 "width": 348, "height": 363,
 "resolve": {"axis": {"x": "independent", "y": "independent"}},
 "layer": [
  {"data": {"name": "meas"}, "transform": [{"filter": "datum.p === 'c'"}],
   "mark": {"type": "area", "color": "#c5bf93"},
   "encoding": {
    "x": {"field": "x", "type": "quantitative", "scale": {"domain": [-5.75, 5.75], "nice": false}, "axis": {"orient": "bottom", "title": null, "labels": false, "values": [-5.5,-5,-4.5,-4,-3.5,-3,-2.5,-2,-1.5,-1,-0.5,0,0.5,1,1.5,2,2.5,3,3.5,4,4.5,5,5.5], "tickSize": {"condition": {"test": "datum.value % 2 === 0", "value": -11}, "value": -6}, "tickWidth": {"condition": {"test": "datum.value % 2 === 0", "value": 2.2}, "value": 1.4}, "tickColor": {"condition": {"test": "datum.value % 2 === 0", "value": "#111111"}, "value": "#555555"}}},
    "y": {"field": "lo", "type": "quantitative", "scale": {"domain": [212, 490], "nice": false, "zero": false}, "axis": {"orient": "left", "title": null, "values": [220,240,260,280,300,320,340,360,380,400,420,440,460,480], "labelExpr": "datum.value % 100 === 0 ? format(datum.value, 'd') : ''", "labelPadding": 16, "tickSize": {"condition": {"test": "datum.value % 100 === 0", "value": -11}, "value": -6}, "tickWidth": {"condition": {"test": "datum.value % 100 === 0", "value": 2.2}, "value": 1.4}, "tickColor": {"condition": {"test": "datum.value % 100 === 0", "value": "#111111"}, "value": "#555555"}}},
    "y2": {"field": "hi"}
   }},
  {"data": {"name": "meas"}, "transform": [{"filter": "datum.p === 'c'"}],
   "mark": {"type": "point", "shape": "circle", "filled": false, "stroke": "#222222", "strokeWidth": 1.2, "size": 40, "opacity": 1},
   "encoding": {
    "x": {"field": "x", "type": "quantitative", "axis": {"orient": "top", "title": null, "labels": false, "values": [-5.5,-5,-4.5,-4,-3.5,-3,-2.5,-2,-1.5,-1,-0.5,0,0.5,1,1.5,2,2.5,3,3.5,4,4.5,5,5.5], "tickSize": {"condition": {"test": "datum.value % 2 === 0", "value": -11}, "value": -6}, "tickWidth": {"condition": {"test": "datum.value % 2 === 0", "value": 2.2}, "value": 1.4}, "tickColor": {"condition": {"test": "datum.value % 2 === 0", "value": "#111111"}, "value": "#555555"}}},
    "y": {"field": "y", "type": "quantitative", "axis": {"orient": "right", "title": null, "labels": false, "values": [220,240,260,280,300,320,340,360,380,400,420,440,460,480], "tickSize": {"condition": {"test": "datum.value % 100 === 0", "value": -11}, "value": -6}, "tickWidth": {"condition": {"test": "datum.value % 100 === 0", "value": 2.2}, "value": 1.4}, "tickColor": {"condition": {"test": "datum.value % 100 === 0", "value": "#111111"}, "value": "#555555"}}}
   }},
  {"data": {"name": "curves"}, "transform": [{"filter": "datum.p === 'c'"}, {"fold": ["off", "on"], "as": ["s", "v"]}],
   "mark": {"type": "line", "clip": true, "interpolate": "monotone", "strokeWidth": 3},
   "encoding": {
    "x": {"field": "x", "type": "quantitative", "axis": null},
    "y": {"field": "v", "type": "quantitative", "axis": null},
    "color": {"field": "s", "type": "nominal", "scale": {"domain": ["on", "off"], "range": ["#1ee61e", "#ff1a1a"]}, "legend": null},
    "strokeDash": {"field": "s", "type": "nominal", "scale": {"domain": ["on", "off"], "range": [[1, 0], [6, 4]]}, "legend": null}
   }},
  {"data": {"values": [{}]}, "mark": {"type": "text", "text": "(c)", "font": "Liberation Sans", "fontSize": 24, "fontWeight": "bold", "color": "#1a1af0", "align": "center", "baseline": "middle"},
   "encoding": {"x": {"datum": -4.79, "type": "quantitative", "axis": null}, "y": {"datum": 457, "type": "quantitative", "axis": null}}},
  {"data": {"values": [{}]}, "mark": {"type": "text", "text": "30-40%", "font": "Liberation Sans", "fontSize": 28, "fontWeight": "bold", "color": "#1a1af0", "align": "center", "baseline": "middle"},
   "encoding": {"x": {"datum": -0.1, "type": "quantitative", "axis": null}, "y": {"datum": 257, "type": "quantitative", "axis": null}}},
  {"data": {"values": [{}]}, "mark": {"type": "text", "text": "dN", "font": "Liberation Sans", "fontSize": 46, "fontWeight": "bold", "color": "#000000", "align": "left", "baseline": "alphabetic", "angle": 270},
   "encoding": {"x": {"datum": -9.35, "type": "quantitative", "axis": null}, "y": {"datum": 284.8, "type": "quantitative", "axis": null}}},
  {"data": {"values": [{}]}, "mark": {"type": "text", "text": "ch", "font": "Liberation Sans", "fontSize": 30, "fontWeight": "bold", "color": "#000000", "align": "left", "baseline": "alphabetic", "angle": 270, "dx": 62, "dy": 18},
   "encoding": {"x": {"datum": -9.35, "type": "quantitative", "axis": null}, "y": {"datum": 284.8, "type": "quantitative", "axis": null}}},
  {"data": {"values": [{}]}, "mark": {"type": "text", "text": "/dη", "font": "Liberation Sans", "fontSize": 46, "fontWeight": "bold", "color": "#000000", "align": "left", "baseline": "alphabetic", "angle": 270, "dx": 98},
   "encoding": {"x": {"datum": -9.35, "type": "quantitative", "axis": null}, "y": {"datum": 284.8, "type": "quantitative", "axis": null}}}
 ]
},
{
 "width": 357, "height": 363,
 "resolve": {"axis": {"x": "independent", "y": "independent"}},
 "layer": [
  {"data": {"name": "meas"}, "transform": [{"filter": "datum.p === 'd'"}],
   "mark": {"type": "area", "color": "#c5bf93"},
   "encoding": {
    "x": {"field": "x", "type": "quantitative", "scale": {"domain": [-5.9, 5.85], "nice": false}, "axis": {"orient": "bottom", "title": null, "labels": false, "values": [-5.5,-5,-4.5,-4,-3.5,-3,-2.5,-2,-1.5,-1,-0.5,0,0.5,1,1.5,2,2.5,3,3.5,4,4.5,5,5.5], "tickSize": {"condition": {"test": "datum.value % 2 === 0", "value": -11}, "value": -6}, "tickWidth": {"condition": {"test": "datum.value % 2 === 0", "value": 2.2}, "value": 1.4}, "tickColor": {"condition": {"test": "datum.value % 2 === 0", "value": "#111111"}, "value": "#555555"}}},
    "y": {"field": "lo", "type": "quantitative", "scale": {"domain": [135.5, 309], "nice": false, "zero": false}, "axis": {"orient": "left", "title": null, "values": [140,150,160,170,180,190,200,210,220,230,240,250,260,270,280,290,300], "labelExpr": "datum.value % 50 === 0 ? format(datum.value, 'd') : ''", "labelPadding": 16, "tickSize": {"condition": {"test": "datum.value % 50 === 0", "value": -11}, "value": -6}, "tickWidth": {"condition": {"test": "datum.value % 50 === 0", "value": 2.2}, "value": 1.4}, "tickColor": {"condition": {"test": "datum.value % 50 === 0", "value": "#111111"}, "value": "#555555"}}},
    "y2": {"field": "hi"}
   }},
  {"data": {"name": "meas"}, "transform": [{"filter": "datum.p === 'd'"}],
   "mark": {"type": "point", "shape": "circle", "filled": false, "stroke": "#222222", "strokeWidth": 1.2, "size": 40, "opacity": 1},
   "encoding": {
    "x": {"field": "x", "type": "quantitative", "axis": {"orient": "top", "title": null, "labels": false, "values": [-5.5,-5,-4.5,-4,-3.5,-3,-2.5,-2,-1.5,-1,-0.5,0,0.5,1,1.5,2,2.5,3,3.5,4,4.5,5,5.5], "tickSize": {"condition": {"test": "datum.value % 2 === 0", "value": -11}, "value": -6}, "tickWidth": {"condition": {"test": "datum.value % 2 === 0", "value": 2.2}, "value": 1.4}, "tickColor": {"condition": {"test": "datum.value % 2 === 0", "value": "#111111"}, "value": "#555555"}}},
    "y": {"field": "y", "type": "quantitative", "axis": {"orient": "right", "title": null, "labels": false, "values": [140,150,160,170,180,190,200,210,220,230,240,250,260,270,280,290,300], "tickSize": {"condition": {"test": "datum.value % 50 === 0", "value": -11}, "value": -6}, "tickWidth": {"condition": {"test": "datum.value % 50 === 0", "value": 2.2}, "value": 1.4}, "tickColor": {"condition": {"test": "datum.value % 50 === 0", "value": "#111111"}, "value": "#555555"}}}
   }},
  {"data": {"name": "curves"}, "transform": [{"filter": "datum.p === 'd'"}, {"fold": ["off", "on"], "as": ["s", "v"]}],
   "mark": {"type": "line", "clip": true, "interpolate": "monotone", "strokeWidth": 3},
   "encoding": {
    "x": {"field": "x", "type": "quantitative", "axis": null},
    "y": {"field": "v", "type": "quantitative", "axis": null},
    "color": {"field": "s", "type": "nominal", "scale": {"domain": ["on", "off"], "range": ["#1ee61e", "#ff1a1a"]}, "legend": null},
    "strokeDash": {"field": "s", "type": "nominal", "scale": {"domain": ["on", "off"], "range": [[1, 0], [6, 4]]}, "legend": null}
   }},
  {"data": {"values": [{}]}, "mark": {"type": "text", "text": "(d)", "font": "Liberation Sans", "fontSize": 24, "fontWeight": "bold", "color": "#1a1af0", "align": "center", "baseline": "middle"},
   "encoding": {"x": {"datum": -4.95, "type": "quantitative", "axis": null}, "y": {"datum": 293, "type": "quantitative", "axis": null}}},
  {"data": {"values": [{}]}, "mark": {"type": "text", "text": "40-50%", "font": "Liberation Sans", "fontSize": 28, "fontWeight": "bold", "color": "#1a1af0", "align": "center", "baseline": "middle"},
   "encoding": {"x": {"datum": -0.14, "type": "quantitative", "axis": null}, "y": {"datum": 173.7, "type": "quantitative", "axis": null}}}
 ]
},
{
 "width": 357, "height": 363,
 "resolve": {"axis": {"x": "independent", "y": "independent"}},
 "layer": [
  {"data": {"name": "meas"}, "transform": [{"filter": "datum.p === 'e'"}],
   "mark": {"type": "area", "color": "#c5bf93"},
   "encoding": {
    "x": {"field": "x", "type": "quantitative", "scale": {"domain": [-5.9, 5.85], "nice": false}, "axis": {"orient": "bottom", "title": null, "labels": false, "values": [-5.5,-5,-4.5,-4,-3.5,-3,-2.5,-2,-1.5,-1,-0.5,0,0.5,1,1.5,2,2.5,3,3.5,4,4.5,5,5.5], "tickSize": {"condition": {"test": "datum.value % 2 === 0", "value": -11}, "value": -6}, "tickWidth": {"condition": {"test": "datum.value % 2 === 0", "value": 2.2}, "value": 1.4}, "tickColor": {"condition": {"test": "datum.value % 2 === 0", "value": "#111111"}, "value": "#555555"}}},
    "y": {"field": "lo", "type": "quantitative", "scale": {"domain": [71.5, 180], "nice": false, "zero": false}, "axis": {"orient": "left", "title": null, "values": [80,90,100,110,120,130,140,150,160,170], "labelExpr": "datum.value % 50 === 0 ? format(datum.value, 'd') : ''", "labelPadding": 16, "tickSize": {"condition": {"test": "datum.value % 50 === 0", "value": -11}, "value": -6}, "tickWidth": {"condition": {"test": "datum.value % 50 === 0", "value": 2.2}, "value": 1.4}, "tickColor": {"condition": {"test": "datum.value % 50 === 0", "value": "#111111"}, "value": "#555555"}}},
    "y2": {"field": "hi"}
   }},
  {"data": {"name": "meas"}, "transform": [{"filter": "datum.p === 'e'"}],
   "mark": {"type": "point", "shape": "circle", "filled": false, "stroke": "#222222", "strokeWidth": 1.2, "size": 40, "opacity": 1},
   "encoding": {
    "x": {"field": "x", "type": "quantitative", "axis": {"orient": "top", "title": null, "labels": false, "values": [-5.5,-5,-4.5,-4,-3.5,-3,-2.5,-2,-1.5,-1,-0.5,0,0.5,1,1.5,2,2.5,3,3.5,4,4.5,5,5.5], "tickSize": {"condition": {"test": "datum.value % 2 === 0", "value": -11}, "value": -6}, "tickWidth": {"condition": {"test": "datum.value % 2 === 0", "value": 2.2}, "value": 1.4}, "tickColor": {"condition": {"test": "datum.value % 2 === 0", "value": "#111111"}, "value": "#555555"}}},
    "y": {"field": "y", "type": "quantitative", "axis": {"orient": "right", "title": null, "labels": false, "values": [80,90,100,110,120,130,140,150,160,170], "tickSize": {"condition": {"test": "datum.value % 50 === 0", "value": -11}, "value": -6}, "tickWidth": {"condition": {"test": "datum.value % 50 === 0", "value": 2.2}, "value": 1.4}, "tickColor": {"condition": {"test": "datum.value % 50 === 0", "value": "#111111"}, "value": "#555555"}}}
   }},
  {"data": {"name": "curves"}, "transform": [{"filter": "datum.p === 'e'"}, {"fold": ["off", "on"], "as": ["s", "v"]}],
   "mark": {"type": "line", "clip": true, "interpolate": "monotone", "strokeWidth": 3},
   "encoding": {
    "x": {"field": "x", "type": "quantitative", "axis": null},
    "y": {"field": "v", "type": "quantitative", "axis": null},
    "color": {"field": "s", "type": "nominal", "scale": {"domain": ["on", "off"], "range": ["#1ee61e", "#ff1a1a"]}, "legend": null},
    "strokeDash": {"field": "s", "type": "nominal", "scale": {"domain": ["on", "off"], "range": [[1, 0], [6, 4]]}, "legend": null}
   }},
  {"data": {"values": [{}]}, "mark": {"type": "text", "text": "(e)", "font": "Liberation Sans", "fontSize": 24, "fontWeight": "bold", "color": "#1a1af0", "align": "center", "baseline": "middle"},
   "encoding": {"x": {"datum": -4.95, "type": "quantitative", "axis": null}, "y": {"datum": 172.5, "type": "quantitative", "axis": null}}},
  {"data": {"values": [{}]}, "mark": {"type": "text", "text": "50-60%", "font": "Liberation Sans", "fontSize": 28, "fontWeight": "bold", "color": "#1a1af0", "align": "center", "baseline": "middle"},
   "encoding": {"x": {"datum": -0.17, "type": "quantitative", "axis": null}, "y": {"datum": 102.6, "type": "quantitative", "axis": null}}}
 ]
},
{
 "width": 348, "height": 361,
 "resolve": {"axis": {"x": "independent", "y": "independent"}},
 "layer": [
  {"data": {"name": "meas"}, "transform": [{"filter": "datum.p === 'f'"}],
   "mark": {"type": "area", "color": "#c5bf93"},
   "encoding": {
    "x": {"field": "x", "type": "quantitative", "scale": {"domain": [-5.75, 5.75], "nice": false}, "axis": {"orient": "bottom", "title": null, "labels": true, "labelExpr": "datum.value % 2 === 0 ? format(datum.value, 'd') : ''", "labelPadding": 20, "values": [-5.5,-5,-4.5,-4,-3.5,-3,-2.5,-2,-1.5,-1,-0.5,0,0.5,1,1.5,2,2.5,3,3.5,4,4.5,5,5.5], "tickSize": {"condition": {"test": "datum.value % 2 === 0", "value": -11}, "value": -6}, "tickWidth": {"condition": {"test": "datum.value % 2 === 0", "value": 2.2}, "value": 1.4}, "tickColor": {"condition": {"test": "datum.value % 2 === 0", "value": "#111111"}, "value": "#555555"}}},
    "y": {"field": "lo", "type": "quantitative", "scale": {"domain": [40.7, 92], "nice": false, "zero": false}, "axis": {"orient": "left", "title": null, "values": [45,50,55,60,65,70,75,80,85,90], "labelExpr": "datum.value % 20 === 0 ? format(datum.value, 'd') : ''", "labelPadding": 16, "tickSize": {"condition": {"test": "datum.value % 20 === 0", "value": -11}, "value": -6}, "tickWidth": {"condition": {"test": "datum.value % 20 === 0", "value": 2.2}, "value": 1.4}, "tickColor": {"condition": {"test": "datum.value % 20 === 0", "value": "#111111"}, "value": "#555555"}}},
    "y2": {"field": "hi"}
   }},
  {"data": {"name": "meas"}, "transform": [{"filter": "datum.p === 'f'"}],
   "mark": {"type": "point", "shape": "circle", "filled": false, "stroke": "#222222", "strokeWidth": 1.2, "size": 40, "opacity": 1},
   "encoding": {
    "x": {"field": "x", "type": "quantitative", "axis": {"orient": "top", "title": null, "labels": false, "values": [-5.5,-5,-4.5,-4,-3.5,-3,-2.5,-2,-1.5,-1,-0.5,0,0.5,1,1.5,2,2.5,3,3.5,4,4.5,5,5.5], "tickSize": {"condition": {"test": "datum.value % 2 === 0", "value": -11}, "value": -6}, "tickWidth": {"condition": {"test": "datum.value % 2 === 0", "value": 2.2}, "value": 1.4}, "tickColor": {"condition": {"test": "datum.value % 2 === 0", "value": "#111111"}, "value": "#555555"}}},
    "y": {"field": "y", "type": "quantitative", "axis": {"orient": "right", "title": null, "labels": false, "values": [45,50,55,60,65,70,75,80,85,90], "tickSize": {"condition": {"test": "datum.value % 20 === 0", "value": -11}, "value": -6}, "tickWidth": {"condition": {"test": "datum.value % 20 === 0", "value": 2.2}, "value": 1.4}, "tickColor": {"condition": {"test": "datum.value % 20 === 0", "value": "#111111"}, "value": "#555555"}}}
   }},
  {"data": {"name": "curves"}, "transform": [{"filter": "datum.p === 'f'"}, {"fold": ["off", "on"], "as": ["s", "v"]}],
   "mark": {"type": "line", "clip": true, "interpolate": "monotone", "strokeWidth": 3},
   "encoding": {
    "x": {"field": "x", "type": "quantitative", "axis": null},
    "y": {"field": "v", "type": "quantitative", "axis": null},
    "color": {"field": "s", "type": "nominal", "scale": {"domain": ["on", "off"], "range": ["#1ee61e", "#ff1a1a"]}, "legend": null},
    "strokeDash": {"field": "s", "type": "nominal", "scale": {"domain": ["on", "off"], "range": [[1, 0], [6, 4]]}, "legend": null}
   }},
  {"data": {"values": [{}]}, "mark": {"type": "text", "text": "(f)", "font": "Liberation Sans", "fontSize": 24, "fontWeight": "bold", "color": "#1a1af0", "align": "center", "baseline": "middle"},
   "encoding": {"x": {"datum": -4.96, "type": "quantitative", "axis": null}, "y": {"datum": 85.9, "type": "quantitative", "axis": null}}},
  {"data": {"values": [{}]}, "mark": {"type": "text", "text": "60-70%", "font": "Liberation Sans", "fontSize": 28, "fontWeight": "bold", "color": "#1a1af0", "align": "center", "baseline": "middle"},
   "encoding": {"x": {"datum": -0.1, "type": "quantitative", "axis": null}, "y": {"datum": 56, "type": "quantitative", "axis": null}}}
 ]
},
{
 "width": 357, "height": 361,
 "resolve": {"axis": {"x": "independent", "y": "independent"}},
 "layer": [
  {"data": {"name": "meas"}, "transform": [{"filter": "datum.p === 'g'"}],
   "mark": {"type": "area", "color": "#c5bf93"},
   "encoding": {
    "x": {"field": "x", "type": "quantitative", "scale": {"domain": [-5.9, 5.85], "nice": false}, "axis": {"orient": "bottom", "title": null, "labels": true, "labelExpr": "datum.value % 2 === 0 ? format(datum.value, 'd') : ''", "labelPadding": 20, "values": [-5.5,-5,-4.5,-4,-3.5,-3,-2.5,-2,-1.5,-1,-0.5,0,0.5,1,1.5,2,2.5,3,3.5,4,4.5,5,5.5], "tickSize": {"condition": {"test": "datum.value % 2 === 0", "value": -11}, "value": -6}, "tickWidth": {"condition": {"test": "datum.value % 2 === 0", "value": 2.2}, "value": 1.4}, "tickColor": {"condition": {"test": "datum.value % 2 === 0", "value": "#111111"}, "value": "#555555"}}},
    "y": {"field": "lo", "type": "quantitative", "scale": {"domain": [21, 42.9], "nice": false, "zero": false}, "axis": {"orient": "left", "title": null, "values": [22,23,24,25,26,27,28,29,30,31,32,33,34,35,36,37,38,39,40,41,42], "labelExpr": "datum.value % 5 === 0 ? format(datum.value, 'd') : ''", "labelPadding": 16, "tickSize": {"condition": {"test": "datum.value % 5 === 0", "value": -11}, "value": -6}, "tickWidth": {"condition": {"test": "datum.value % 5 === 0", "value": 2.2}, "value": 1.4}, "tickColor": {"condition": {"test": "datum.value % 5 === 0", "value": "#111111"}, "value": "#555555"}}},
    "y2": {"field": "hi"}
   }},
  {"data": {"name": "meas"}, "transform": [{"filter": "datum.p === 'g'"}],
   "mark": {"type": "point", "shape": "circle", "filled": false, "stroke": "#222222", "strokeWidth": 1.2, "size": 40, "opacity": 1},
   "encoding": {
    "x": {"field": "x", "type": "quantitative", "axis": {"orient": "top", "title": null, "labels": false, "values": [-5.5,-5,-4.5,-4,-3.5,-3,-2.5,-2,-1.5,-1,-0.5,0,0.5,1,1.5,2,2.5,3,3.5,4,4.5,5,5.5], "tickSize": {"condition": {"test": "datum.value % 2 === 0", "value": -11}, "value": -6}, "tickWidth": {"condition": {"test": "datum.value % 2 === 0", "value": 2.2}, "value": 1.4}, "tickColor": {"condition": {"test": "datum.value % 2 === 0", "value": "#111111"}, "value": "#555555"}}},
    "y": {"field": "y", "type": "quantitative", "axis": {"orient": "right", "title": null, "labels": false, "values": [22,23,24,25,26,27,28,29,30,31,32,33,34,35,36,37,38,39,40,41,42], "tickSize": {"condition": {"test": "datum.value % 5 === 0", "value": -11}, "value": -6}, "tickWidth": {"condition": {"test": "datum.value % 5 === 0", "value": 2.2}, "value": 1.4}, "tickColor": {"condition": {"test": "datum.value % 5 === 0", "value": "#111111"}, "value": "#555555"}}}
   }},
  {"data": {"name": "curves"}, "transform": [{"filter": "datum.p === 'g'"}, {"fold": ["off", "on"], "as": ["s", "v"]}],
   "mark": {"type": "line", "clip": true, "interpolate": "monotone", "strokeWidth": 3},
   "encoding": {
    "x": {"field": "x", "type": "quantitative", "axis": null},
    "y": {"field": "v", "type": "quantitative", "axis": null},
    "color": {"field": "s", "type": "nominal", "scale": {"domain": ["on", "off"], "range": ["#1ee61e", "#ff1a1a"]}, "legend": null},
    "strokeDash": {"field": "s", "type": "nominal", "scale": {"domain": ["on", "off"], "range": [[1, 0], [6, 4]]}, "legend": null}
   }},
  {"data": {"values": [{}]}, "mark": {"type": "text", "text": "(g)", "font": "Liberation Sans", "fontSize": 24, "fontWeight": "bold", "color": "#1a1af0", "align": "center", "baseline": "middle"},
   "encoding": {"x": {"datum": -4.62, "type": "quantitative", "axis": null}, "y": {"datum": 40.2, "type": "quantitative", "axis": null}}},
  {"data": {"values": [{}]}, "mark": {"type": "text", "text": "70-80%", "font": "Liberation Sans", "fontSize": 28, "fontWeight": "bold", "color": "#1a1af0", "align": "center", "baseline": "middle"},
   "encoding": {"x": {"datum": -0.14, "type": "quantitative", "axis": null}, "y": {"datum": 27.55, "type": "quantitative", "axis": null}}}
 ]
},
{
 "width": 357, "height": 361,
 "resolve": {"axis": {"x": "independent", "y": "independent"}},
 "layer": [
  {"data": {"name": "meas"}, "transform": [{"filter": "datum.p === 'h'"}],
   "mark": {"type": "area", "color": "#c5bf93"},
   "encoding": {
    "x": {"field": "x", "type": "quantitative", "scale": {"domain": [-5.9, 5.85], "nice": false}, "axis": {"orient": "bottom", "title": "η", "titleFont": "DejaVu Serif", "titleFontSize": 48, "titleFontWeight": "normal", "titleColor": "#000000", "titleX": 253, "titleY": 77, "titleAlign": "center", "titleBaseline": "alphabetic", "labels": true, "labelExpr": "datum.value % 2 === 0 ? format(datum.value, 'd') : ''", "labelPadding": 20, "values": [-5.5,-5,-4.5,-4,-3.5,-3,-2.5,-2,-1.5,-1,-0.5,0,0.5,1,1.5,2,2.5,3,3.5,4,4.5,5,5.5], "tickSize": {"condition": {"test": "datum.value % 2 === 0", "value": -11}, "value": -6}, "tickWidth": {"condition": {"test": "datum.value % 2 === 0", "value": 2.2}, "value": 1.4}, "tickColor": {"condition": {"test": "datum.value % 2 === 0", "value": "#111111"}, "value": "#555555"}}},
    "y": {"field": "lo", "type": "quantitative", "scale": {"domain": [8, 17], "nice": false, "zero": false}, "axis": {"orient": "left", "title": null, "values": [8,8.5,9,9.5,10,10.5,11,11.5,12,12.5,13,13.5,14,14.5,15,15.5,16,16.5], "labelExpr": "datum.value % 2 === 0 ? format(datum.value, 'd') : ''", "labelPadding": 16, "tickSize": {"condition": {"test": "datum.value % 2 === 0", "value": -11}, "value": -6}, "tickWidth": {"condition": {"test": "datum.value % 2 === 0", "value": 2.2}, "value": 1.4}, "tickColor": {"condition": {"test": "datum.value % 2 === 0", "value": "#111111"}, "value": "#555555"}}},
    "y2": {"field": "hi"}
   }},
  {"data": {"name": "meas"}, "transform": [{"filter": "datum.p === 'h'"}],
   "mark": {"type": "point", "shape": "circle", "filled": false, "stroke": "#222222", "strokeWidth": 1.2, "size": 40, "opacity": 1},
   "encoding": {
    "x": {"field": "x", "type": "quantitative", "axis": {"orient": "top", "title": null, "labels": false, "values": [-5.5,-5,-4.5,-4,-3.5,-3,-2.5,-2,-1.5,-1,-0.5,0,0.5,1,1.5,2,2.5,3,3.5,4,4.5,5,5.5], "tickSize": {"condition": {"test": "datum.value % 2 === 0", "value": -11}, "value": -6}, "tickWidth": {"condition": {"test": "datum.value % 2 === 0", "value": 2.2}, "value": 1.4}, "tickColor": {"condition": {"test": "datum.value % 2 === 0", "value": "#111111"}, "value": "#555555"}}},
    "y": {"field": "y", "type": "quantitative", "axis": {"orient": "right", "title": null, "labels": false, "values": [8,8.5,9,9.5,10,10.5,11,11.5,12,12.5,13,13.5,14,14.5,15,15.5,16,16.5], "tickSize": {"condition": {"test": "datum.value % 2 === 0", "value": -11}, "value": -6}, "tickWidth": {"condition": {"test": "datum.value % 2 === 0", "value": 2.2}, "value": 1.4}, "tickColor": {"condition": {"test": "datum.value % 2 === 0", "value": "#111111"}, "value": "#555555"}}}
   }},
  {"data": {"name": "curves"}, "transform": [{"filter": "datum.p === 'h'"}, {"fold": ["off", "on"], "as": ["s", "v"]}],
   "mark": {"type": "line", "clip": true, "interpolate": "monotone", "strokeWidth": 3},
   "encoding": {
    "x": {"field": "x", "type": "quantitative", "axis": null},
    "y": {"field": "v", "type": "quantitative", "axis": null},
    "color": {"field": "s", "type": "nominal", "scale": {"domain": ["on", "off"], "range": ["#1ee61e", "#ff1a1a"]}, "legend": null},
    "strokeDash": {"field": "s", "type": "nominal", "scale": {"domain": ["on", "off"], "range": [[1, 0], [6, 4]]}, "legend": null}
   }},
  {"data": {"values": [{}]}, "mark": {"type": "text", "text": "(h)", "font": "Liberation Sans", "fontSize": 24, "fontWeight": "bold", "color": "#1a1af0", "align": "center", "baseline": "middle"},
   "encoding": {"x": {"datum": -4.62, "type": "quantitative", "axis": null}, "y": {"datum": 16.15, "type": "quantitative", "axis": null}}},
  {"data": {"values": [{}]}, "mark": {"type": "text", "text": "80-90%", "font": "Liberation Sans", "fontSize": 28, "fontWeight": "bold", "color": "#1a1af0", "align": "center", "baseline": "middle"},
   "encoding": {"x": {"datum": -0.17, "type": "quantitative", "axis": null}, "y": {"datum": 10.24, "type": "quantitative", "axis": null}}}
 ]
}
]
},
{
 "width": 470, "height": 1200,
 "view": {"stroke": null, "fill": "#ffffd6"},
 "layer": [
  {"data": {"values": [{}]}, "mark": {"type": "rect", "color": "#ffffd6"}},
  {"data": {"values": [{"s": "on"}, {"s": "off"}]},
   "mark": {"type": "line", "opacity": 0, "strokeWidth": 5},
   "encoding": {
    "color": {"field": "s", "type": "nominal", "scale": {"domain": ["on", "off"], "range": ["#00b050", "#ff0000"]},
      "legend": {"orient": "none", "legendX": 278, "legendY": 825, "title": null, "padding": 0, "symbolType": "stroke", "symbolSize": 11664, "symbolStrokeWidth": 5, "symbolOpacity": 1, "labelFont": "DejaVu Sans", "labelFontSize": 34, "labelFontWeight": "bold", "labelColor": "#000000", "labelOffset": 25, "rowPadding": 21, "clipHeight": 30, "labelLimit": 300}},
    "strokeDash": {"field": "s", "type": "nominal", "scale": {"domain": ["on", "off"], "range": [[1, 0], [17, 8]]},
      "legend": {"orient": "none", "legendX": 278, "legendY": 825, "title": null, "padding": 0, "symbolType": "stroke", "symbolSize": 11664, "symbolStrokeWidth": 5, "symbolOpacity": 1, "labelFont": "DejaVu Sans", "labelFontSize": 34, "labelFontWeight": "bold", "labelColor": "#000000", "labelOffset": 25, "rowPadding": 21, "clipHeight": 30, "labelLimit": 300}}
   }}
 ]
}
],
"spacing": 85
}
